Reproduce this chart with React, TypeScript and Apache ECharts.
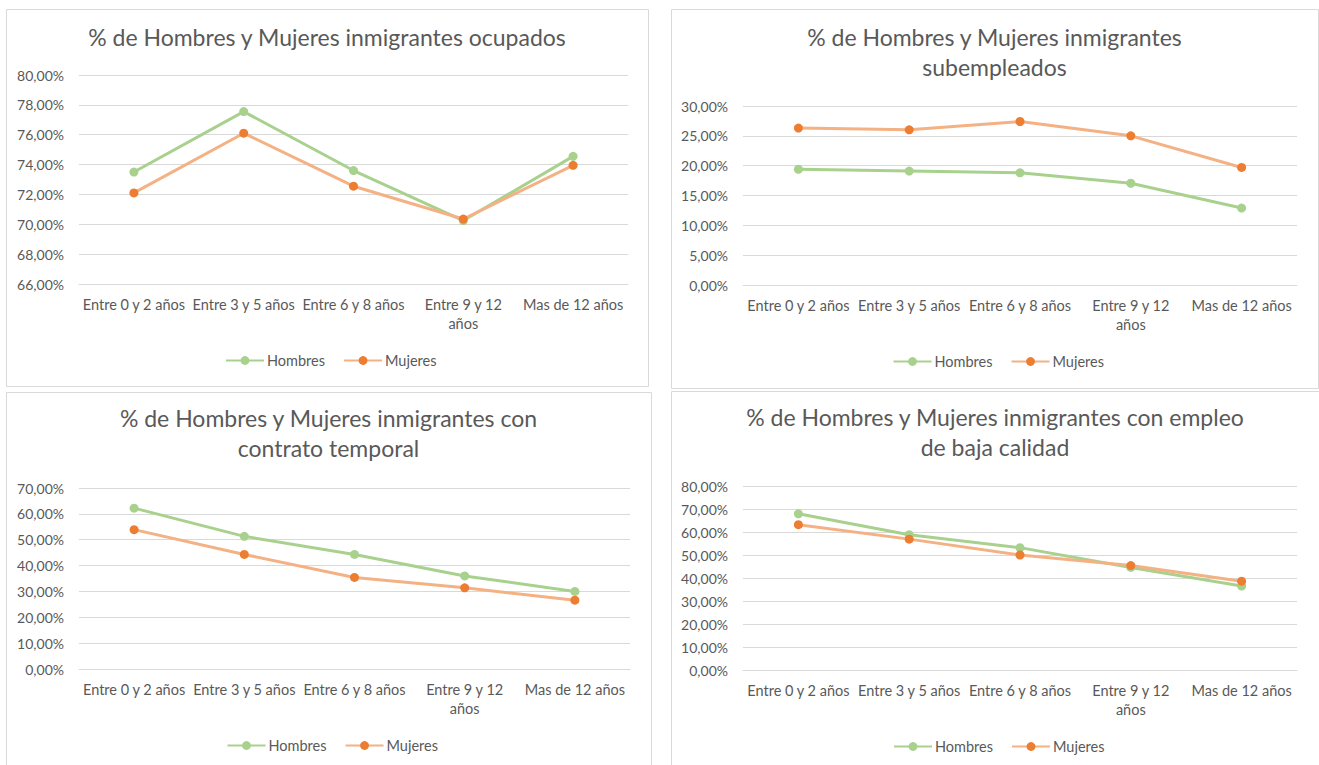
import React, { useEffect, useRef } from "react";
import * as echarts from "echarts";

const categories = ["Entre 0 y 2 años", "Entre 3 y 5 años", "Entre 6 y 8 años", "Entre 9 y 12 años", "Mas de 12 años"];
const seriesNames = ["Hombres", "Mujeres"];

const ocupadosHombres = [73.5, 77.55, 73.6, 70.25, 74.55];
const ocupadosMujeres = [72.1, 76.1, 72.55, 70.35, 73.95];

const subempleadosHombres = [19.4, 19.1, 18.8, 17.05, 12.9];
const subempleadosMujeres = [26.3, 26.0, 27.4, 25.0, 19.7];

const temporalHombres = [62.2, 51.3, 44.3, 36.0, 30.0];
const temporalMujeres = [53.9, 44.3, 35.4, 31.4, 26.6];

const bajaCalidadHombres = [67.9, 58.8, 53.2, 44.6, 36.5];
const bajaCalidadMujeres = [63.2, 56.9, 50.0, 45.4, 38.6];

const titles = [
  "% de Hombres y Mujeres inmigrantes ocupados",
  "% de Hombres y Mujeres inmigrantes\nsubempleados",
  "% de Hombres y Mujeres inmigrantes con\ncontrato temporal",
  "% de Hombres y Mujeres inmigrantes con empleo\nde baja calidad",
];

const yMins = [66, 0, 0, 0];
const yMaxs = [80, 30, 70, 80];
const yIntervals = [2, 5, 10, 10];

const FONT = "Lato";
const TEXT = "#595959";
const GRID = "#D9D9D9";
const GREEN = "#A9D18E";
const ORANGE_LINE = "#F4B183";
const ORANGE_MARK = "#ED7D31";

// layout of the four panels (page pixels)
const panels = [
  { box: [6, 9, 642, 377], grid: [79, 75, 549, 209], titleY: 22, legendY: 353 },
  { box: [671, 9, 647, 379], grid: [743, 106, 554, 179], titleY: 22, legendY: 354 },
  { box: [6, 392, 645, 380], grid: [79, 488, 551, 181], titleY: 403, legendY: 738 },
  { box: [671, 391, 648, 380], grid: [743, 486, 554, 184], titleY: 402, legendY: 739 },
];

const data = [
  [ocupadosHombres, ocupadosMujeres],
  [subempleadosHombres, subempleadosMujeres],
  [temporalHombres, temporalMujeres],
  [bajaCalidadHombres, bajaCalidadMujeres],
];

function buildOption() {
  const title: any[] = [];
  const grid: any[] = [];
  const xAxis: any[] = [];
  const yAxis: any[] = [];
  const legend: any[] = [];
  const series: any[] = [];
  const graphic: any[] = [];

  panels.forEach((p, i) => {
    const [bx, by, bw, bh] = p.box;
    const [gl, gt, gw, gh] = p.grid;
    const cx = bx + bw / 2;
    graphic.push({
      type: "rect",
      shape: { x: bx + 0.5, y: by + 0.5, width: bw, height: bh },
      style: { fill: "#fff", stroke: GRID, lineWidth: 1 },
      z: -10,
      silent: true,
    });
    title.push({
      text: titles[i],
      left: cx,
      top: p.titleY,
      padding: 0,
      textAlign: "center",
      textStyle: {
        fontFamily: FONT,
        fontSize: 23,
        fontWeight: "normal",
        color: TEXT,
        lineHeight: 30,
      },
    });
    grid.push({ left: gl, top: gt, width: gw, height: gh, containLabel: false });
    xAxis.push({
      type: "category",
      gridIndex: i,
      data: categories,
      boundaryGap: true,
      axisLine: { show: true, lineStyle: { color: GRID, width: 1 } },
      axisTick: { show: false },
      axisLabel: {
        interval: 0,
        margin: 11,
        fontFamily: FONT,
        fontSize: 14.5,
        color: TEXT,
        lineHeight: 19,
        formatter: (v: string) => (v.length > 16 ? v.replace(/ (\S+)$/, "\n$1") : v),
      },
    });
    yAxis.push({
      type: "value",
      gridIndex: i,
      min: yMins[i],
      max: yMaxs[i],
      interval: yIntervals[i],
      axisLine: { show: false },
      axisTick: { show: false },
      splitLine: { show: true, lineStyle: { color: GRID, width: 1 } },
      axisLabel: {
        margin: 15,
        fontFamily: FONT,
        fontSize: 14,
        color: TEXT,
        formatter: (v: number) => v.toFixed(2).replace(".", ",") + "%",
      },
    });
    const ids = seriesNames.map((n) => n + "_" + i);
    legend.push({
      data: ids.map((id) => ({ name: id })),
      left: cx - 102,
      top: p.legendY,
      padding: 0,
      orient: "horizontal",
      itemWidth: 38,
      itemHeight: 11,
      itemGap: 18,
      textStyle: { fontFamily: FONT, fontSize: 14.5, color: TEXT, padding: [0, 0, 0, -2] },
      formatter: (name: string) => name.split("_")[0],
      selectedMode: false,
    });
    series.push({
      id: ids[0],
      name: ids[0],
      type: "line",
      xAxisIndex: i,
      yAxisIndex: i,
      data: data[i][0],
      symbol: "circle",
      symbolSize: 9,
      lineStyle: { color: GREEN, width: 3 },
      itemStyle: { color: GREEN },
      z: 2,
    });
    series.push({
      id: ids[1],
      name: ids[1],
      type: "line",
      xAxisIndex: i,
      yAxisIndex: i,
      data: data[i][1],
      symbol: "circle",
      symbolSize: 9,
      lineStyle: { color: ORANGE_LINE, width: 3 },
      itemStyle: { color: ORANGE_MARK },
      z: 3,
    });
  });

  return {
    animation: false,
    backgroundColor: "#fff",
    title,
    grid,
    xAxis,
    yAxis,
    legend,
    series,
    graphic,
  };
}

export default function App() {
  const ref = useRef<HTMLDivElement>(null);
  useEffect(() => {
    if (!ref.current) return;
    const chart = echarts.init(ref.current, undefined, { renderer: "svg" });
    chart.setOption(buildOption() as any);
    return () => chart.dispose();
  }, []);
  return (
    <div
      ref={ref}
      style={{ position: "fixed", left: 0, top: 0, width: 1319, height: 765, background: "#fff" }}
    />
  );
}
